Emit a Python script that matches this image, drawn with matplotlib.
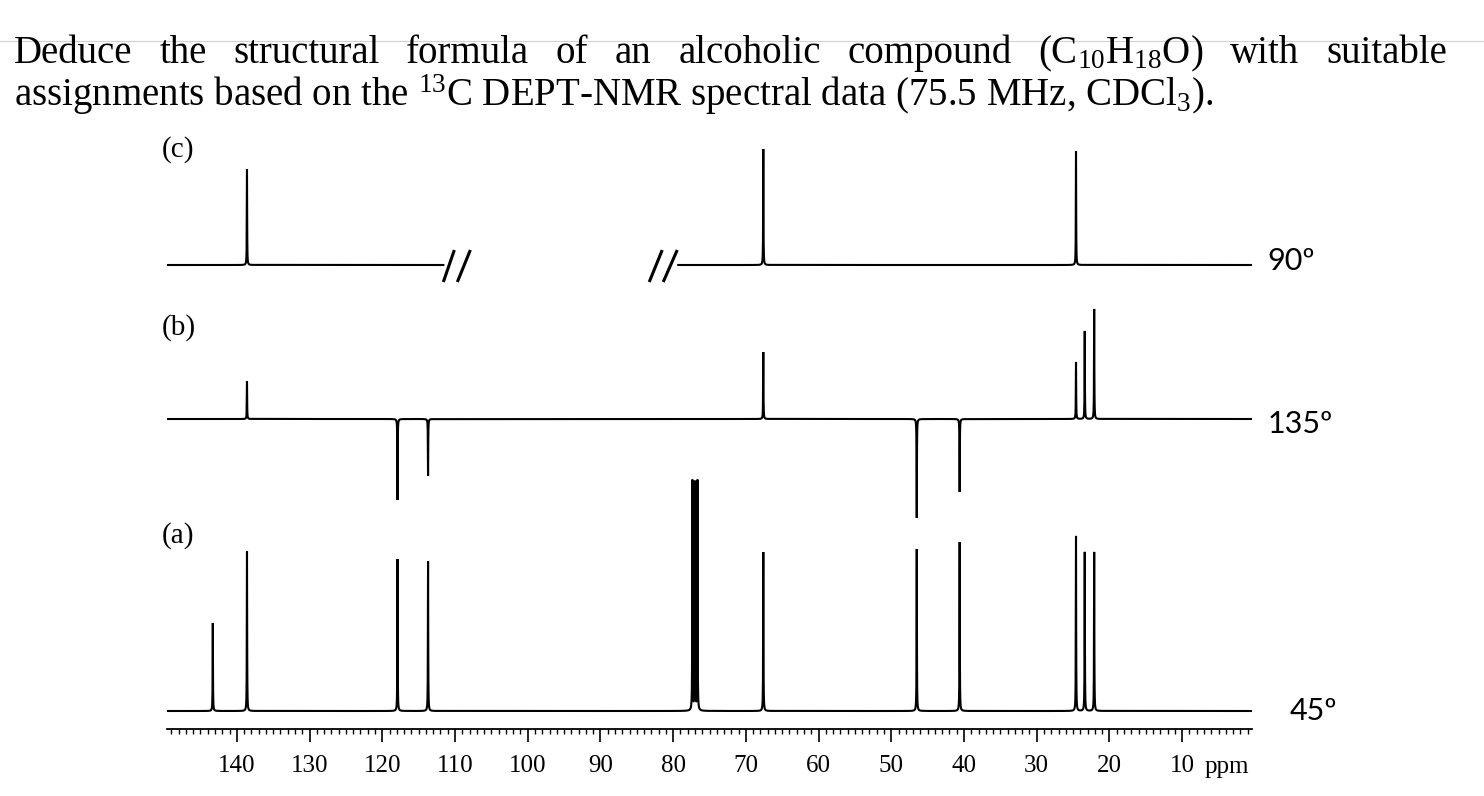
import numpy as np
import matplotlib
matplotlib.use("Agg")
import matplotlib.pyplot as plt
from matplotlib.lines import Line2D
from matplotlib.ticker import MultipleLocator

plt.rcParams["font.family"] = ["Liberation Serif", "DejaVu Serif"]
plt.rcParams["mathtext.fontset"] = "custom"
plt.rcParams["mathtext.rm"] = "Liberation Serif"
plt.rcParams["mathtext.it"] = "Liberation Serif:italic"

# peak positions (ppm) and heights for the three DEPT traces
ppm_a = [143.3, 138.6, 117.9, 113.7, 77.35, 77.0, 76.65, 67.6, 46.5, 40.6, 24.6, 23.4, 22.1]
int_a = [88, 160, 152, 150, 230, 228, 230, 159, 162, 169, 175, 159, 159]

ppm_b = [138.6, 117.9, 113.7, 67.6, 46.5, 40.6, 24.6, 23.4, 22.1]
int_b = [38, -81, -57, 67, -99, -73, 57, 88, 110]

ppm_c = [138.6, 67.6, 24.6]
int_c = [96, 116, 114]
break_c = (111.6, 79.3)   # region cut out of the 90 deg trace

major_ticks = list(range(10, 141, 10))
trace_names = ["(c)", "(b)", "(a)"]
angle_names = ["90º", "135º", "45º"]

W, H = 1484, 796
fig = plt.figure(figsize=(W / 100, H / 100), dpi=100)
ax = fig.add_axes([167 / W, 0, 1085 / W, 1])
ax.set_xlim(149.6, 0.4)
ax.set_ylim(0, H)
px_per_ppm = 1085 / (149.6 - 0.4)


def spectrum(x, centers, heights, hw=0.025):
    y = np.zeros_like(x)
    for c, h in zip(centers, heights):
        y += h / (1 + ((x - c) / hw) ** 2)
    return y


x = np.union1d(np.arange(0.4, 149.6, 0.005), ppm_a)

# baselines in figure pixels from the top
base_c, base_b, base_a = H - 265, H - 419, H - 711

yc = base_c + spectrum(x, ppm_c, int_c)
yc[(x < break_c[0]) & (x > break_c[1])] = np.nan
yb = base_b + spectrum(x, ppm_b, int_b)
ya = base_a + spectrum(x, ppm_a, int_a)

lw = 1.5
for y in (yc, yb, ya):
    ax.plot(x, y, color="black", lw=lw, solid_joinstyle="miter")

# break marks "//"
def slash(x0_ppm, d0, d1):
    ax.plot([x0_ppm - d0 / px_per_ppm, x0_ppm - d1 / px_per_ppm],
            [base_c - 17, base_c + 15], color="black", lw=2.2,
            solid_capstyle="butt")

slash(break_c[0], 0, 11)
slash(break_c[0], 14, 27)
slash(break_c[1], -29, -16)
slash(break_c[1], -15, -1)

# ppm ruler
for s in ("top", "left", "right"):
    ax.spines[s].set_visible(False)
ax.spines["bottom"].set_position(("data", H - 729))
ax.spines["bottom"].set_linewidth(1.3)
ax.set_yticks([])
ax.set_xticks(major_ticks)
ax.xaxis.set_minor_locator(MultipleLocator(1))
ax.tick_params(axis="x", which="major", direction="out", length=9.5, width=1.2,
               pad=9, labelsize=18)
ax.tick_params(axis="x", which="minor", direction="out", length=3.5, width=1.0)
ax.patch.set_visible(False)

fig.text(1205 / W, 1 - 773 / H, "ppm", fontsize=18, va="baseline")

# trace labels
for name, yy in zip(trace_names, [150, 328, 536]):
    fig.text(162 / W, 1 - yy / H, name, fontsize=21, va="center")

for name, xx, yy in zip(angle_names, [1267, 1268, 1290], [270, 433, 720]):
    fig.text(xx / W, 1 - yy / H, name, fontsize=22, va="baseline", family="Lato")

# question text, first line justified
words1 = ["Deduce", "the", "structural", "formula", "of", "an", "alcoholic",
          "compound", r"(C$_{\mathrm{10}}$H$_{\mathrm{18}}$O)", "with", "suitable"]
left, right = 14, 1447
texts = [fig.text(0, 1 - 63 / H, w, fontsize=28, va="baseline") for w in words1]
fig.canvas.draw()
r = fig.canvas.get_renderer()
widths = [t.get_window_extent(r).width for t in texts]
gap = (right - left - sum(widths)) / (len(texts) - 1)
pos = left
for t, wd in zip(texts, widths):
    t.set_x(pos / W)
    pos += wd + gap

fig.text(left / W, 1 - 106 / H,
         r"assignments based on the $^{\mathrm{13}}$C DEPT-NMR spectral data (75.5 MHz, CDCl$_{\mathrm{3}}$).",
         fontsize=28, va="baseline")

fig.add_artist(Line2D([0, 1], [1 - 41 / H] * 2, color="#d2d2d2", lw=0.8))

fig.savefig("out.png", dpi=100)
